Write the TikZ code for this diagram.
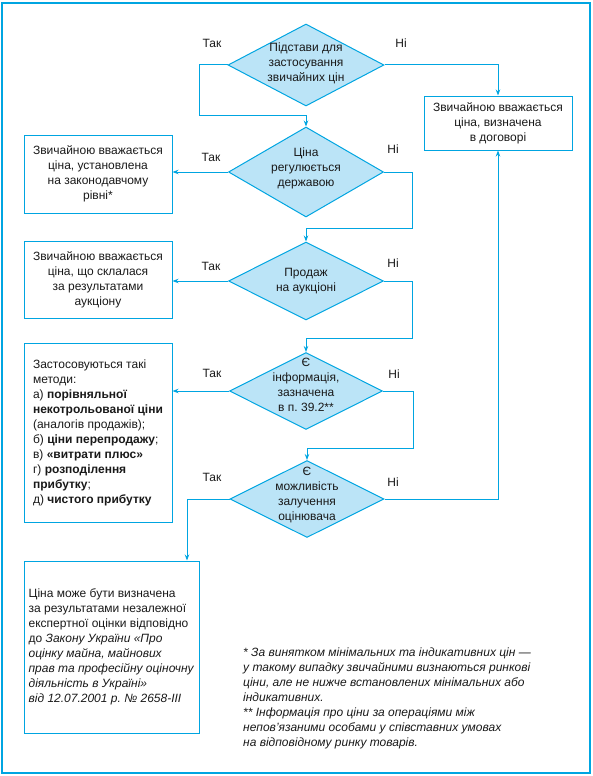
\documentclass[tikz,border=0pt]{standalone}
\usepackage{fontspec}
\setmainfont{Liberation Sans}
\usetikzlibrary{shapes.geometric,arrows.meta}
\definecolor{flowblue}{RGB}{0,165,225}
\definecolor{askblue}{RGB}{187,228,247}
\newcommand{\flowcolor}{flowblue}
\newcommand{\askcolor}{askblue}
\newcommand{\flowline}{1pt}
\frenchspacing

\begin{document}
\begin{tikzpicture}[x=1pt,y=-1pt,
  every node/.style={font=\fontsize{12}{15}\selectfont, text=black!90},
  ask/.style={diamond, draw=\flowcolor, fill=\askcolor, line width=\flowline, inner sep=0pt},
  asktext/.style={align=center, inner sep=0pt},
  box/.style={rectangle, draw=\flowcolor, line width=\flowline, inner sep=0pt, align=center},
  wire/.style={draw=\flowcolor, line width=\flowline},
  link/.style={wire, -{Stealth[length=6pt,width=4.5pt]}}]
\useasboundingbox (0,0) rectangle (593,776);
\draw[wire, line width=1.2pt] (2,3) rectangle (590,773);
% questions
\node[ask, minimum width=156, minimum height=82] (q1) at (306,65) {};
\node[ask, minimum width=155, minimum height=90] (q2) at (306,172) {};
\node[ask, minimum width=155, minimum height=78] (q3) at (306,281) {};
\node[ask, minimum width=153, minimum height=77] (q4) at (306,391) {};
\node[ask, minimum width=154, minimum height=77] (q5) at (307,499) {};
\node[asktext] (q1text) at (306,63) {Підстави для\\застосування\\звичайних цін};
\node[asktext] (q2text) at (306,168) {Ціна\\регулюється\\державою};
\node[asktext] (q3text) at (306,281) {Продаж\\на аукціоні};
\node[asktext] (q4text) at (306,385) {Є\\інформація,\\зазначена\\в п. 39.2**};
\node[asktext] (q5text) at (307,495) {Є\\можливість\\залучення\\оцінювача};
% answers
\node[box, minimum width=148, minimum height=54] (r0) at (498,123) {Звичайною вважається\\ціна, визначена\\в договорі};
\node[box, minimum width=148, minimum height=78] (r1) at (98,174) {Звичайною вважається\\ціна, установлена\\на законодавчому\\рівні*};
\node[box, minimum width=148, minimum height=77] (r2) at (98,279.5) {Звичайною вважається\\ціна, що склалася\\за результатами\\аукціону};
\node[box, minimum width=148, minimum height=179, align=left] (r3) at (98,432.5) {Застосовуються такі\\методи:\\а) \textbf{порівняльної}\\\textbf{некотрольованої ціни}\\(аналогів продажів);\\б) \textbf{ціни перепродажу};\\в) \textbf{«витрати плюс»}\\г) \textbf{розподілення}\\\textbf{прибутку};\\д) \textbf{чистого прибутку}};
\node[box, minimum width=175, minimum height=172, align=left] (r4) at (111.5,647) {Ціна може бути визначена\\за результатами незалежної\\експертної оцінки відповідно\\до \textit{Закону України «Про}\\\textit{оцінку майна, майнових}\\\textit{прав та професійну оціночну}\\\textit{діяльність в Україні»}\\\textit{від 12.07.2001 р. № 2658-III}};
\node[anchor=west, align=left, inner sep=0pt, font=\fontsize{12}{15}\selectfont\itshape] (notes) at (243,698) {* За винятком мінімальних та індикативних цін —\\у такому випадку звичайними визнаються ринкові\\ціни, але не нижче встановлених мінімальних або\\індикативних.\\** Інформація про ціни за операціями між\\непов’язаними особами у співставних умовах\\на відповідному ринку товарів.};
% yes / no
\node (t1) at (212,43) {Так};
\node (n1) at (401,43) {Ні};
\node (t2) at (211,157) {Так};
\node (n2) at (393,149) {Ні};
\node (t3) at (211,266) {Так};
\node (n3) at (393,263) {Ні};
\node (t4) at (212,373) {Так};
\node (n4) at (394,374) {Ні};
\node (t5) at (212,477) {Так};
\node (n5) at (393,482) {Ні};
% connectors
\coordinate (k1) at (199,115);
\coordinate (k2) at (412,228);
\coordinate (k3) at (412,338);
\coordinate (k4) at (413,448);
\coordinate (k5) at (187,499);
\draw[link] (q1.west) -| (k1) -| (q2.north);
\draw[link] (q1.east) -| (r0.north);
\draw[link] (q2.west) -- (q2.west -| r1.east);
\draw[link] (q2.east) -| (k2) -| (q3.north);
\draw[link] (q3.west) -- (q3.west -| r2.east);
\draw[link] (q3.east) -| (k3) -| (q4.north);
\draw[link] (q4.west) -- (q4.west -| r3.east);
\draw[link] (q4.east) -| (k4) -| (q5.north);
\draw[link] (q5.west) -- (k5) -- (k5 |- r4.north);
\draw[link] (q5.east) -| (r0.south);
\end{tikzpicture}
\end{document}
